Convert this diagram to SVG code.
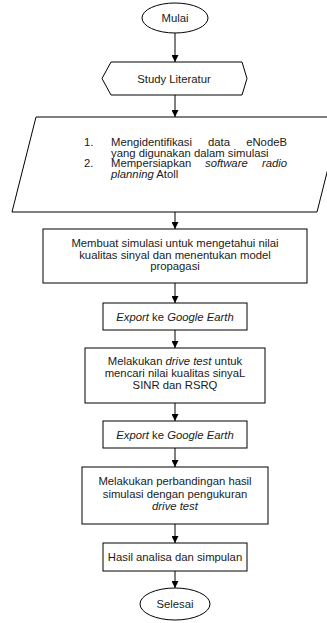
<svg xmlns="http://www.w3.org/2000/svg" width="327" height="623" viewBox="0 0 327 623">
<defs>
<style>
.s{fill:#fff;stroke:#000;stroke-width:1}
.t{font-family:"Liberation Sans",Arial,sans-serif;font-size:11.3px;fill:#1a1a1a}
.c{text-anchor:middle}
.e{text-anchor:end}
.i{font-style:italic}
.ln{stroke:#000;stroke-width:1;fill:none;marker-end:url(#ah)}
</style>
<marker id="ah" viewBox="0 0 10 10" refX="10" refY="5" markerWidth="7" markerHeight="7" markerUnits="userSpaceOnUse" orient="auto">
<path d="M0,0 L10,5 L0,10 Z" fill="#000"/>
</marker>
</defs>
<rect width="327" height="623" fill="#fff"/>
<g id="connectors">
<line class="ln" x1="175" y1="33" x2="175" y2="62"/>
<line class="ln" x1="175" y1="95" x2="175" y2="117"/>
<line class="ln" x1="175" y1="212" x2="175" y2="229"/>
<line class="ln" x1="175" y1="283" x2="175" y2="303"/>
<line class="ln" x1="175" y1="330" x2="175" y2="348"/>
<line class="ln" x1="175" y1="403" x2="175" y2="421"/>
<line class="ln" x1="175" y1="448" x2="175" y2="467"/>
<line class="ln" x1="175" y1="524" x2="175" y2="543"/>
<line class="ln" x1="175" y1="571" x2="175" y2="588"/>
</g>
<g id="mulai">
<ellipse class="s" cx="175" cy="18" rx="33" ry="15"/>
<text class="t c" x="175" y="22">Mulai</text>
</g>
<g id="study">
<polygon class="s" points="111,62 242,62 247,78.5 242,95 111,95 102,78.5"/>
<text class="t c" x="174" y="82.5">Study Literatur</text>
</g>
<g id="input">
<polygon class="s" points="36,117 341,117 317,212 12,212"/>
<text class="t" x="84" y="146">1.</text>
<text class="t" x="111" y="146">Mengidentifikasi</text>
<text class="t" x="208" y="146">data</text>
<text class="t e" x="287" y="146">eNodeB</text>
<text class="t" x="111" y="156.5">yang digunakan dalam simulasi</text>
<text class="t" x="84" y="167">2.</text>
<text class="t" x="111" y="167">Mempersiapkan</text>
<text class="t i" x="205" y="167">software</text>
<text class="t i e" x="287" y="167">radio</text>
<text class="t" x="111" y="177.5"><tspan class="i">planning</tspan> Atoll</text>
</g>
<g id="simulasi">
<rect class="s" x="43" y="229" width="264" height="54"/>
<text class="t c" x="175" y="247">Membuat simulasi untuk mengetahui nilai</text>
<text class="t c" x="175" y="258.5">kualitas sinyal dan menentukan model</text>
<text class="t c" x="175" y="270">propagasi</text>
</g>
<g id="export1">
<rect class="s" x="103" y="303" width="144" height="27"/>
<text class="t c" x="175" y="321"><tspan class="i">Export</tspan> ke <tspan class="i">Google Earth</tspan></text>
</g>
<g id="drivetest">
<rect class="s" x="85" y="348" width="180" height="55"/>
<text class="t c" x="175" y="365">Melakukan <tspan class="i">drive test</tspan> untuk</text>
<text class="t c" x="175" y="377">mencari nilai kualitas sinyaL</text>
<text class="t c" x="175" y="389">SINR dan RSRQ</text>
</g>
<g id="export2">
<rect class="s" x="103" y="421" width="144" height="27"/>
<text class="t c" x="175" y="439"><tspan class="i">Export</tspan> ke <tspan class="i">Google Earth</tspan></text>
</g>
<g id="perbandingan">
<rect class="s" x="82" y="467" width="186" height="57"/>
<text class="t c" x="175" y="485">Melakukan perbandingan hasil</text>
<text class="t c" x="175" y="497.5">simulasi dengan pengukuran</text>
<text class="t c i" x="175" y="510">drive test</text>
</g>
<g id="hasil">
<rect class="s" x="103" y="543" width="144" height="28"/>
<text class="t c" x="175" y="561">Hasil analisa dan simpulan</text>
</g>
<g id="selesai">
<ellipse class="s" cx="175" cy="604" rx="35" ry="16"/>
<text class="t c" x="175" y="608">Selesai</text>
</g>
</svg>
